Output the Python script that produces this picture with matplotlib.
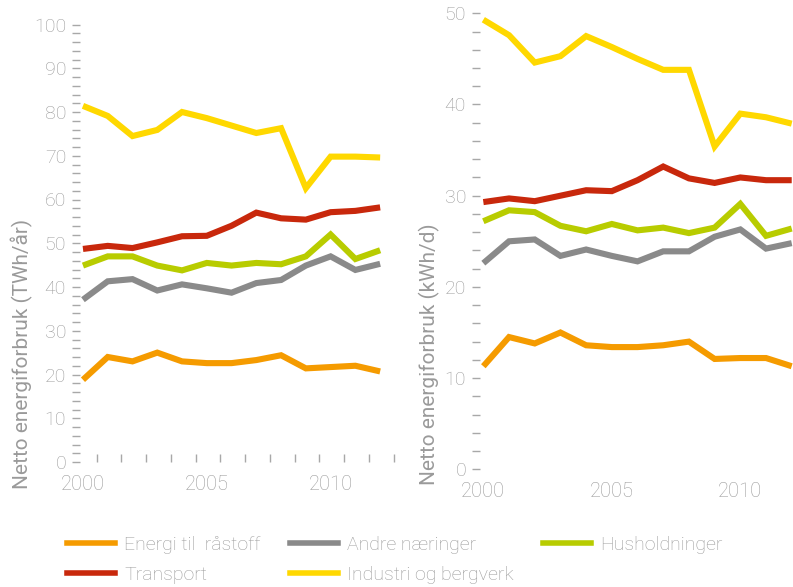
import matplotlib
matplotlib.use('Agg')
import matplotlib.pyplot as plt
from matplotlib.ticker import MultipleLocator, FixedLocator
from matplotlib.lines import Line2D

years = list(range(2000, 2013))

# Netto energiforbruk (TWh/år)
energi_twh = [18.8, 24.0, 23.0, 25.0, 23.0, 22.6, 22.6, 23.3, 24.4, 21.4, 21.7, 22.0, 20.7]
andre_twh = [37.1, 41.3, 41.8, 39.2, 40.6, 39.7, 38.7, 40.9, 41.6, 44.9, 47.0, 43.9, 45.3]
hus_twh = [44.9, 47.0, 47.0, 44.9, 43.8, 45.5, 44.9, 45.5, 45.2, 47.0, 52.0, 46.4, 48.4]
transport_twh = [48.7, 49.4, 48.9, 50.2, 51.6, 51.7, 54.0, 57.0, 55.7, 55.4, 57.1, 57.4, 58.2]
industri_twh = [81.4, 79.1, 74.5, 75.9, 80.0, 78.6, 76.9, 75.2, 76.3, 62.6, 69.8, 69.8, 69.6]

# Netto energiforbruk (kWh/d)
energi_kwh = [11.3, 14.5, 13.8, 15.0, 13.6, 13.4, 13.4, 13.6, 14.0, 12.1, 12.2, 12.2, 11.3]
andre_kwh = [22.6, 25.0, 25.2, 23.4, 24.1, 23.4, 22.8, 23.9, 23.9, 25.5, 26.3, 24.2, 24.8]
hus_kwh = [27.2, 28.4, 28.2, 26.7, 26.1, 26.9, 26.2, 26.5, 25.9, 26.5, 29.1, 25.6, 26.4]
transport_kwh = [29.3, 29.7, 29.4, 30.0, 30.6, 30.5, 31.7, 33.2, 31.9, 31.4, 32.0, 31.7, 31.7]
industri_kwh = [49.3, 47.6, 44.6, 45.3, 47.5, 46.3, 45.0, 43.8, 43.8, 35.4, 39.0, 38.6, 37.9]

labels = ["Energi til  råstoff", "Andre næringer", "Husholdninger", "Transport", "Industri og bergverk"]
colors = ["#F59B00", "#8A8A8A", "#B8CC00", "#C8280C", "#FFD800"]

left_major = [0, 10, 20, 30, 40, 50, 60, 70, 80, 90, 100]
right_major = [0, 10, 20, 30, 40, 50]
x_major = [2000, 2005, 2010]

plt.rcParams['font.family'] = ['Roboto', 'DejaVu Sans']
plt.rcParams['font.weight'] = 'light'
TXT = "#9A9A9A"
TICK = "#A8A8A8"

fig = plt.figure(figsize=(7.93, 5.87), dpi=100)

axL = fig.add_axes([80/793, 1-462/587, 315/793, (462-24.5)/587])
axR = fig.add_axes([480/793, 1-469.3/587, 313/793, (469.3-13.3)/587])

series_L = [energi_twh, andre_twh, hus_twh, transport_twh, industri_twh]
series_R = [energi_kwh, andre_kwh, hus_kwh, transport_kwh, industri_kwh]

for ax, series in ((axL, series_L), (axR, series_R)):
    for vals, c in zip(series, colors):
        ax.plot(years, vals, color=c, lw=4.4, solid_capstyle='butt', solid_joinstyle='miter')
    for s in ax.spines.values():
        s.set_visible(False)
    ax.set_xticks(x_major)
    ax.tick_params(axis='x', which='major', length=0, labelsize=14.5, labelcolor=TXT, pad=9)
    ax.tick_params(axis='y', which='major', length=6, width=1, color=TICK, labelsize=14, labelcolor=TXT, pad=4)
    ax.tick_params(axis='y', which='minor', length=6, width=1, color=TICK)
    ax.yaxis.set_minor_locator(MultipleLocator(2))
    ax.set_facecolor('none')

axL.set_xlim(1999.88, 2012.6)
axL.set_ylim(0, 100)
axL.set_yticks(left_major)
axL.xaxis.set_minor_locator(FixedLocator([y + 0.55 for y in years]))
axL.tick_params(axis='x', which='minor', direction='in', length=6, width=1, color=TICK)
axL.set_ylabel("Netto energiforbruk (TWh/år)", fontsize=15, color=TXT)
axL.yaxis.set_label_coords(-0.149, 0.246)

axR.set_xlim(1999.87, 2012.05)
axR.set_ylim(0, 50)
axR.set_yticks(right_major)
axR.set_ylabel("Netto energiforbruk (kWh/d)", fontsize=15, color=TXT)
axR.yaxis.set_label_coords(-0.128, 0.253)

handles = [Line2D([0], [0], color=c, lw=4) for c in colors]
order = [0, 3, 1, 4, 2]
leg = fig.legend([handles[i] for i in order], [labels[i] for i in order],
                 ncol=3, loc='upper left', bbox_to_anchor=(59/793, 1-528/587),
                 frameon=False, fontsize=14, handlelength=2.5, handletextpad=0.45,
                 columnspacing=1.5, labelspacing=0.62, borderaxespad=0)
for t in leg.get_texts():
    t.set_color(TXT)

fig.savefig("out.png", dpi=100)
